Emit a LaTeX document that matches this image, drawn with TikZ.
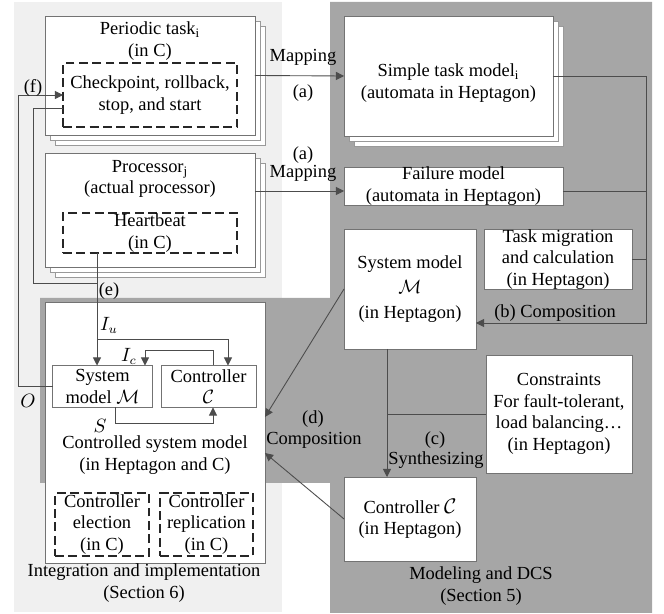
\documentclass[tikz,border=0pt]{standalone}
\usepackage{fontspec}
\setmainfont{Liberation Serif}
\usepackage{tikz}
\usetikzlibrary{arrows.meta,shadows}

\definecolor{panellight}{gray}{0.94}
\definecolor{paneldark}{gray}{0.65}

\tikzset{
  box/.style={draw=black!55,fill=white,inner sep=0pt,outer sep=0pt,align=center},
  stackbox/.style={box,
    general shadow={shadow xshift=0.2cm,shadow yshift=-0.2cm,draw=black!40,fill=white},
    general shadow={shadow xshift=0.1cm,shadow yshift=-0.1cm,draw=black!40,fill=white}},
  dashbox/.style={draw=black!85,dash pattern=on 5pt off 2.6pt,line width=0.75pt,inner sep=0pt,outer sep=0pt,align=center},
  lbl/.style={inner sep=0pt,align=center},
  conn/.style={draw=black!70,line width=0.5pt},
}

\begin{document}
\begin{tikzpicture}[x=0.02cm,y=-0.02cm,>={Triangle[length=4.6pt,width=4.6pt]},font=\fontsize{10.5}{12.2}\selectfont]
\useasboundingbox (0,0) rectangle (664,614);
% panels
\fill[panellight] (14,2) rectangle (282,612);
\fill[paneldark] (330,2) -- (652,2) -- (652,613) -- (330,613) -- (330,483) -- (40,483) -- (40,298) -- (330,298) -- cycle;

% integration side
\node[stackbox,minimum width=4.2cm,minimum height=2.38cm] (ptask) at (150,75.5) {};
\node[lbl] (ptasktitle) at (150,41) {Periodic task\textsubscript{i}\\(in C)};
\node[dashbox,minimum width=3.48cm,minimum height=1.28cm] (chk) at (150,95) {Checkpoint, rollback,\\stop, and start};
\node[stackbox,minimum width=4.2cm,minimum height=2.28cm] (proc) at (150,210) {};
\node[lbl] (proctitle) at (150,179) {Processor\textsubscript{j}\\(actual processor)};
\node[dashbox,minimum width=3.48cm,minimum height=0.8cm] (hb) at (150,233) {Heartbeat\\(in C)};

\node[box,minimum width=4.4cm,minimum height=5.22cm] (csm) at (155,432.5) {};
\node[lbl] (csmtitle) at (155,455) {Controlled system model\\(in Heptagon and C)};
\node[box,minimum width=2.0cm,minimum height=0.84cm] (smi) at (102.5,386.5) {System\\model $\mathcal{M}$};
\node[box,minimum width=1.9cm,minimum height=0.84cm] (cti) at (208.5,386.5) {Controller\\$\mathcal{C}$};
\node[dashbox,minimum width=1.88cm,minimum height=1.26cm] (elec) at (102,524.5) {Controller\\election\\(in C)};
\node[dashbox,minimum width=1.86cm,minimum height=1.26cm] (repl) at (206.5,524.5) {Controller\\replication\\(in C)};
\node[lbl] (intlbl) at (144,583) {Integration and implementation\\(Section 6)};

% modeling side
\node[stackbox,minimum width=4.18cm,minimum height=2.4cm] (stm) at (448.5,76) {};
\node[lbl] (stmtitle) at (448.5,83) {Simple task model\textsubscript{i}\\(automata in Heptagon)};
\node[box,minimum width=4.38cm,minimum height=0.72cm] (fail) at (453.5,186) {Failure model\\(automata in Heptagon)};
\node[box,minimum width=2.96cm,minimum height=1.1cm] (mig) at (558,259.5) {Task migration\\and calculation\\(in Heptagon)};
\node[box,minimum width=2.64cm,minimum height=2.4cm] (sysm) at (410,289) {System model\\[2pt]$\mathcal{M}$\\[2pt](in Heptagon)};
\node[box,minimum width=2.92cm,minimum height=2.36cm] (cons) at (559,414) {Constraints\\For fault-tolerant,\\load balancing…\\(in Heptagon)};
\node[box,minimum width=2.64cm,minimum height=1.68cm] (ctrl) at (410,519) {Controller {\large$\mathcal{C}$}\\(in Heptagon)};
\node[lbl] (modlbl) at (481,586) {Modeling and DCS\\(Section 5)};

% (a) mapping
\draw[conn,->] (ptask.east) -- (stm.west);
\node[lbl] (mapone) at (303,57) {Mapping};
\node[lbl] (mapalpha) at (303,93) {(a)};
\coordinate (failin) at ([yshift=-0.1cm]fail.west);
\draw[conn,->] (proc.east |- failin) -- (failin);
\node[lbl] (mapbeta) at (303,155) {(a)};
\node[lbl] (maptwo) at (303,173) {Mapping};

% (b) composition
\coordinate (bus) at (646,323);
\draw[conn,->] (stm.east) -| (bus) -- (bus -| sysm.east);
\coordinate (failout) at ([yshift=-0.1cm]fail.east);
\draw[conn] (failout) -- (failout -| bus);
\draw[conn] (mig.east) -- (mig.east -| bus);
\node[lbl] (complb) at (555,313) {(b) Composition};

% (c) synthesizing
\coordinate (syn) at ([xshift=-0.46cm]sysm.south);
\draw[conn,->] (syn) -- (syn |- ctrl.north);
\draw[conn] (cons.west) -- (cons.west -| syn);
\node[lbl] (sync) at (435,440) {(c)};
\node[lbl] (synlb) at (436,460) {Synthesizing};

% (d) composition
\draw[conn,->] (sysm.west) -- ([yshift=0.31cm]csm.east);
\draw[conn,->] (ctrl.west) -- ([yshift=-0.41cm]csm.east);
\node[lbl] (compd) at (313,419) {(d)};
\node[lbl] (complbd) at (314,440) {Composition};

% (e) heartbeat, inputs and outputs
\coordinate (hbx) at ([xshift=-1.06cm]hb.south);
\path (hbx) ++(0,86) coordinate (iusplit);
\path (hbx) ++(0,30) coordinate (ejoin);
\draw[conn,->] (hbx) -- (hbx |- smi.north);
\draw[conn,->] (iusplit) -| ([xshift=0.39cm]cti.north);
\node[lbl] (elb) at (109,291) {(e)};
\node[lbl] (iulb) at (109,325) {$I_u$};
\draw[conn,->] ([xshift=0.09cm]cti.north) -- ++(0,-15) -| ([xshift=0.85cm]smi.north);
\node[lbl] (iclb) at (129,356) {$I_c$};
\draw[conn,->] ([xshift=0.26cm]smi.south) -- ++(0,16) -| ([xshift=0.09cm]cti.south);
\node[lbl] (slb) at (100,426) {$S$};

% (f) back to the task
\draw[conn,->] (smi.west) -- ++(-34,0) |- (chk.west);
\node[lbl] (olb) at (28,401) {$O$};
\node[lbl] (flb) at (33,88) {(f)};
\coordinate (chkout) at ([yshift=-0.26cm]chk.west);
\draw[conn] (chkout) -- ++(-30,0) |- (ejoin);
\end{tikzpicture}
\end{document}
